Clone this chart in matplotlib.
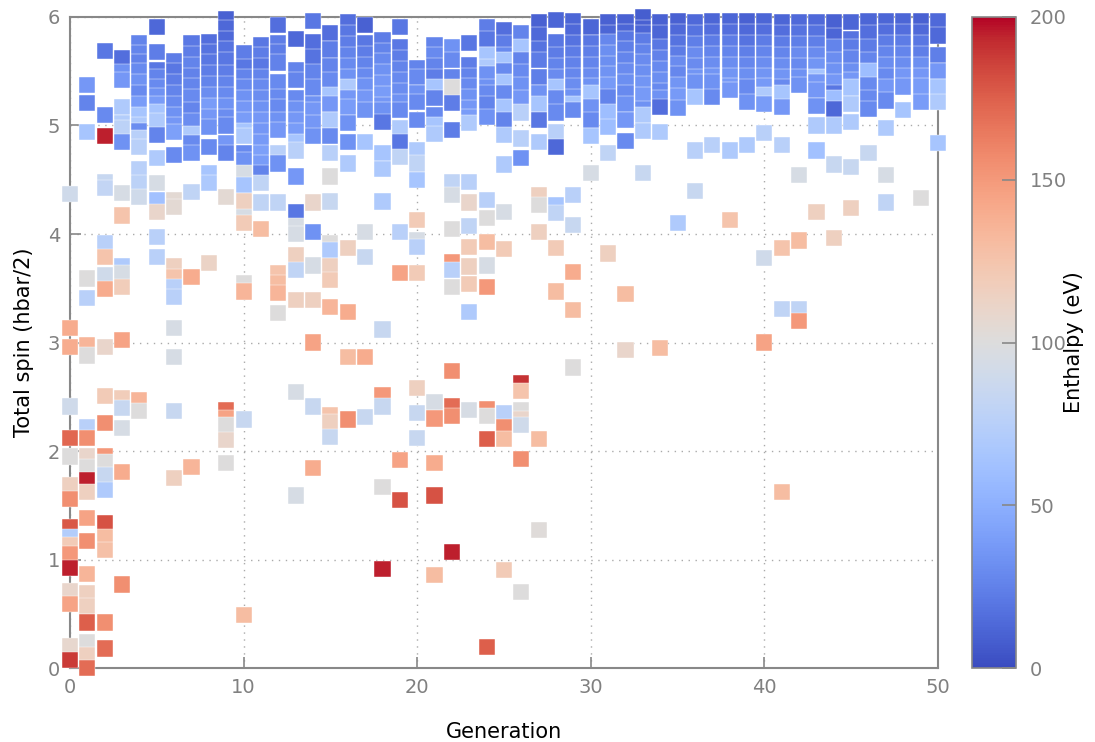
import numpy as np
import matplotlib
matplotlib.use("Agg")
import matplotlib.pyplot as plt

# spin (hbar/2) and enthalpy (eV) of every structure, one list per generation
spin = [
    [4.37, 3.13, 2.96, 2.41, 2.12, 1.95, 1.69, 1.56, 1.30, 1.21, 1.13, 1.05, 0.92, 0.71, 0.59, 0.20, 0.07],
    [5.37, 5.21, 4.94, 3.59, 3.41, 2.98, 2.88, 2.22, 2.12, 1.95, 1.85, 1.73, 1.62, 1.38, 1.17, 0.87, 0.69, 0.57, 0.42, 0.24, 0.12, 0.0],
    [5.69, 5.10, 4.90, 4.48, 4.42, 3.92, 3.79, 3.62, 3.49, 2.96, 2.51, 2.26, 1.95, 1.90, 1.78, 1.64, 1.34, 1.21, 1.09, 0.42, 0.18],
    [5.62, 5.49, 5.42, 5.17, 5.02, 4.98, 4.85, 4.38, 4.17, 3.70, 3.64, 3.51, 3.02, 2.49, 2.40, 2.21, 1.81, 0.77],
    [5.76, 5.67, 5.58, 5.50, 5.40, 5.30, 5.20, 5.10, 5.00, 4.95, 4.88, 4.80, 4.60, 4.47, 4.34, 2.47, 2.37],
    [5.91, 5.68, 5.51, 5.45, 5.35, 5.27, 5.20, 5.12, 5.04, 4.91, 4.70, 4.47, 4.31, 4.20, 3.97, 3.79],
    [5.59, 5.50, 5.40, 5.30, 5.20, 5.10, 5.00, 4.94, 4.73, 4.31, 4.25, 3.70, 3.60, 3.51, 3.42, 3.13, 2.87, 2.37, 1.75],
    [5.76, 5.66, 5.56, 5.46, 5.36, 5.26, 5.14, 5.04, 4.92, 4.84, 4.75, 4.39, 3.60, 1.85],
    [5.77, 5.68, 5.58, 5.48, 5.38, 5.28, 5.18, 5.08, 4.99, 4.80, 4.56, 4.47, 3.73],
    [5.98, 5.90, 5.80, 5.70, 5.60, 5.48, 5.38, 5.28, 5.18, 5.08, 5.00, 4.84, 4.75, 4.34, 2.38, 2.30, 2.24, 2.10, 1.89],
    [5.67, 5.54, 5.45, 5.35, 5.25, 5.15, 5.05, 4.95, 4.90, 4.75, 4.68, 4.56, 4.45, 4.30, 4.16, 4.10, 3.55, 3.47, 2.29, 0.49],
    [5.74, 5.65, 5.55, 5.45, 5.35, 5.25, 5.15, 5.05, 4.95, 4.85, 4.75, 4.65, 4.56, 4.47, 4.29, 4.05],
    [5.93, 5.76, 5.68, 5.58, 5.40, 5.26, 5.17, 5.05, 4.96, 4.75, 4.65, 4.29, 3.64, 3.55, 3.46, 3.27],
    [5.80, 5.51, 5.42, 5.25, 5.15, 5.05, 4.95, 4.85, 4.77, 4.53, 4.20, 4.07, 4.00, 3.81, 3.67, 3.39, 2.54, 1.59],
    [5.96, 5.77, 5.63, 5.49, 5.35, 5.20, 5.14, 5.02, 4.90, 4.29, 4.02, 3.71, 3.39, 3.00, 2.41, 1.84],
    [5.85, 5.70, 5.55, 5.42, 5.28, 5.20, 5.05, 4.90, 4.75, 4.53, 4.30, 3.92, 3.85, 3.70, 3.58, 3.33, 2.33, 2.27, 2.13],
    [5.95, 5.85, 5.75, 5.65, 5.55, 5.45, 5.35, 5.25, 5.17, 5.02, 4.85, 4.65, 3.87, 3.28, 2.87, 2.29],
    [5.93, 5.76, 5.66, 5.56, 5.46, 5.36, 5.25, 5.14, 4.85, 4.02, 3.79, 2.87, 2.31],
    [5.79, 5.69, 5.59, 5.49, 5.39, 5.29, 5.19, 5.14, 5.03, 4.75, 4.60, 4.30, 3.12, 2.52, 2.41, 1.67, 0.91],
    [5.91, 5.72, 5.62, 5.52, 5.42, 5.32, 5.22, 5.14, 4.98, 4.85, 4.71, 4.02, 3.64, 1.92, 1.55],
    [5.53, 5.45, 5.30, 5.22, 5.05, 4.77, 4.65, 4.50, 4.13, 3.94, 3.88, 3.64, 2.58, 2.35, 2.12],
    [5.74, 5.65, 5.55, 5.45, 5.35, 5.25, 5.10, 5.00, 4.92, 2.45, 2.30, 1.89, 1.59, 0.86],
    [5.72, 5.60, 5.45, 5.35, 5.21, 4.96, 4.48, 4.36, 4.05, 3.74, 3.67, 3.51, 2.74, 2.41, 2.32, 1.07],
    [5.76, 5.56, 5.46, 5.36, 5.26, 5.16, 5.08, 5.02, 4.48, 4.29, 4.07, 3.88, 3.70, 3.54, 3.28, 2.38],
    [5.91, 5.80, 5.65, 5.54, 5.47, 5.35, 5.30, 5.20, 5.08, 4.31, 4.15, 3.93, 3.71, 3.51, 2.39, 2.32, 2.11, 0.19],
    [5.88, 5.76, 5.65, 5.60, 5.50, 5.40, 5.30, 5.17, 5.05, 4.91, 4.64, 4.20, 3.86, 2.35, 2.22, 2.11, 0.90],
    [5.85, 5.72, 5.60, 5.49, 5.37, 5.25, 5.12, 4.88, 4.70, 2.63, 2.55, 2.38, 2.29, 2.24, 1.93, 0.70],
    [5.95, 5.83, 5.70, 5.60, 5.45, 5.30, 5.20, 5.05, 4.85, 4.36, 4.27, 4.02, 2.11, 1.27],
    [5.97, 5.77, 5.65, 5.55, 5.45, 5.35, 5.25, 5.12, 4.94, 4.80, 4.27, 4.19, 3.87, 3.47],
    [5.96, 5.86, 5.76, 5.66, 5.56, 5.46, 5.36, 5.26, 5.20, 5.14, 4.36, 4.08, 3.65, 3.30, 2.77],
    [5.91, 5.76, 5.66, 5.56, 5.46, 5.36, 5.30, 5.17, 5.05, 4.90, 4.56],
    [5.95, 5.85, 5.77, 5.67, 5.57, 5.47, 5.37, 5.26, 5.12, 4.99, 4.75, 3.82],
    [5.95, 5.86, 5.80, 5.70, 5.60, 5.50, 5.40, 5.30, 5.20, 5.05, 4.86, 3.45, 2.93],
    [6.00, 5.90, 5.85, 5.78, 5.68, 5.58, 5.48, 5.38, 5.28, 5.15, 5.10, 4.95, 4.56],
    [5.95, 5.85, 5.72, 5.62, 5.52, 5.42, 5.32, 5.25, 5.17, 4.94, 2.95],
    [5.96, 5.86, 5.76, 5.66, 5.57, 5.47, 5.37, 5.27, 5.16, 4.10],
    [5.95, 5.85, 5.75, 5.65, 5.55, 5.45, 5.40, 5.26, 4.77, 4.40],
    [5.96, 5.86, 5.76, 5.66, 5.56, 5.46, 5.40, 5.26, 4.82],
    [5.96, 5.86, 5.76, 5.66, 5.56, 5.46, 5.36, 5.33, 4.77, 4.13],
    [5.96, 5.86, 5.76, 5.66, 5.56, 5.46, 5.35, 5.22, 4.82],
    [5.96, 5.86, 5.76, 5.66, 5.56, 5.46, 5.36, 5.28, 5.20, 4.93, 3.78, 3.00],
    [5.95, 5.85, 5.75, 5.65, 5.55, 5.45, 5.35, 5.30, 5.17, 4.82, 3.87, 3.31, 1.62],
    [5.95, 5.85, 5.75, 5.65, 5.55, 5.45, 5.37, 4.54, 3.94, 3.31, 3.20],
    [5.95, 5.85, 5.75, 5.65, 5.55, 5.45, 5.40, 5.33, 5.18, 5.00, 4.77, 4.20],
    [5.95, 5.82, 5.72, 5.60, 5.50, 5.40, 5.30, 5.25, 5.15, 5.00, 4.64, 3.96],
    [5.95, 5.80, 5.72, 5.62, 5.50, 5.42, 5.35, 5.20, 5.03, 4.62, 4.24],
    [5.96, 5.85, 5.72, 5.60, 5.50, 5.37, 5.25, 5.15, 4.75],
    [5.96, 5.86, 5.76, 5.66, 5.56, 5.46, 5.35, 5.23, 4.98, 4.54, 4.29],
    [5.96, 5.86, 5.76, 5.66, 5.56, 5.46, 5.36, 5.14],
    [5.96, 5.86, 5.76, 5.66, 5.56, 5.46, 5.36, 5.22, 4.33],
    [5.96, 5.83, 5.65, 5.50, 5.35, 5.22, 4.84],
]

enthalpy = [
    [90, 140, 140, 90, 172, 100, 115, 155, 178, 72, 120, 150, 195, 110, 145, 108, 188],
    [36, 26, 65, 100, 75, 135, 100, 75, 155, 110, 100, 195, 115, 145, 155, 135, 115, 115, 175, 100, 115, 170],
    [20, 29, 195, 85, 82, 75, 125, 90, 140, 110, 120, 155, 150, 100, 85, 70, 180, 130, 128, 155, 170],
    [16, 33, 36, 70, 72, 78, 33, 95, 125, 70, 95, 118, 145, 118, 85, 95, 140, 155],
    [26, 27, 25, 29, 33, 29, 39, 65, 70, 31, 75, 75, 75, 78, 90, 135, 100],
    [13, 23, 20, 26, 29, 33, 39, 65, 70, 26, 70, 95, 62, 110, 75, 75],
    [23, 20, 23, 26, 29, 33, 36, 41, 29, 105, 105, 115, 125, 75, 75, 95, 95, 85, 115],
    [21, 23, 26, 25, 27, 29, 27, 31, 70, 29, 33, 80, 140, 135],
    [16, 18, 20, 23, 26, 31, 39, 36, 33, 29, 65, 68, 112],
    [10, 13, 14, 18, 20, 23, 26, 29, 33, 31, 29, 36, 26, 105, 170, 145, 100, 110, 100],
    [23, 20, 26, 29, 33, 36, 39, 65, 70, 29, 33, 95, 65, 115, 95, 120, 100, 135, 85, 130],
    [20, 23, 21, 26, 29, 31, 33, 36, 36, 38, 41, 39, 26, 80, 80, 130],
    [16, 23, 23, 25, 29, 29, 29, 33, 36, 75, 33, 80, 125, 130, 135, 100],
    [13, 26, 27, 29, 33, 36, 39, 65, 75, 36, 20, 95, 95, 115, 80, 115, 95, 95],
    [20, 16, 18, 26, 29, 33, 36, 36, 33, 110, 33, 95, 115, 145, 85, 140],
    [16, 23, 26, 29, 65, 36, 70, 29, 75, 100, 85, 100, 70, 115, 120, 135, 125, 115, 85],
    [16, 20, 23, 26, 29, 33, 70, 36, 39, 33, 33, 70, 115, 140, 130, 155],
    [10, 20, 23, 26, 29, 33, 36, 34, 65, 95, 85, 140, 85],
    [23, 26, 29, 33, 36, 39, 36, 33, 20, 65, 68, 70, 85, 150, 85, 100, 195],
    [20, 21, 23, 26, 29, 31, 33, 29, 70, 20, 80, 75, 145, 145, 180],
    [26, 29, 33, 29, 29, 70, 80, 65, 120, 95, 75, 120, 115, 85, 85],
    [26, 29, 26, 23, 65, 26, 29, 65, 70, 95, 150, 140, 180, 130],
    [33, 29, 26, 100, 23, 23, 80, 95, 100, 150, 75, 100, 155, 170, 155, 195],
    [20, 23, 26, 29, 33, 36, 39, 70, 75, 110, 80, 120, 115, 120, 70, 95],
    [23, 20, 65, 70, 33, 33, 29, 26, 33, 75, 100, 130, 95, 150, 155, 100, 175, 175],
    [16, 23, 29, 65, 29, 65, 29, 65, 26, 70, 70, 95, 120, 75, 155, 130, 120],
    [26, 65, 26, 29, 33, 36, 75, 75, 33, 190, 125, 100, 110, 90, 155, 100],
    [10, 14, 18, 22, 24, 33, 65, 20, 70, 115, 100, 115, 130, 102],
    [12, 20, 22, 26, 30, 65, 29, 29, 75, 13, 65, 80, 120, 130],
    [12, 14, 18, 22, 25, 28, 31, 33, 65, 29, 75, 85, 140, 130, 100],
    [12, 20, 24, 27, 30, 33, 65, 33, 29, 65, 95],
    [10, 12, 28, 32, 32, 34, 38, 26, 60, 60, 80, 115],
    [10, 12, 20, 24, 27, 30, 32, 29, 33, 36, 29, 130, 110],
    [8, 10, 12, 22, 26, 30, 32, 35, 38, 33, 70, 70, 85],
    [10, 12, 20, 25, 29, 32, 29, 33, 16, 70, 130],
    [10, 14, 18, 22, 30, 28, 35, 38, 33, 70],
    [14, 18, 24, 30, 30, 35, 33, 65, 75, 85],
    [12, 16, 22, 27, 31, 35, 33, 29, 75],
    [12, 16, 22, 27, 31, 35, 38, 36, 70, 125],
    [10, 14, 18, 24, 28, 32, 29, 33, 70],
    [12, 16, 22, 27, 31, 35, 38, 70, 39, 75, 90, 145],
    [12, 16, 22, 27, 31, 35, 29, 65, 36, 75, 125, 80, 130],
    [14, 18, 24, 30, 29, 33, 33, 95, 130, 80, 150],
    [14, 18, 24, 30, 35, 65, 36, 36, 33, 70, 62, 115],
    [10, 12, 26, 31, 33, 36, 20, 60, 13, 70, 85, 115],
    [12, 18, 22, 27, 32, 36, 65, 70, 70, 85, 115],
    [12, 16, 22, 27, 60, 29, 29, 29, 85],
    [12, 16, 22, 27, 31, 29, 36, 29, 70, 95, 80],
    [12, 16, 22, 27, 31, 36, 36, 65],
    [10, 14, 20, 24, 32, 36, 39, 39, 100],
    [14, 14, 24, 36, 65, 70, 65],
]

generation = np.concatenate([[g] * len(s) for g, s in enumerate(spin)])
spin_all = np.concatenate(spin)
enthalpy_all = np.concatenate(enthalpy)

grey = "#888888"

fig = plt.figure(figsize=(10.95, 7.42), dpi=100)
ax = fig.add_axes([0.0639, 0.0997, 0.7927, 0.8774])

sc = ax.scatter(generation, spin_all, c=enthalpy_all, cmap="coolwarm",
                vmin=0, vmax=200, marker="s", s=135,
                edgecolors="white", linewidths=0.3, clip_on=False, zorder=3)

ax.set_xlim(0, 50)
ax.set_ylim(0, 6)
ax.set_xticks([0, 10, 20, 30, 40, 50])
ax.set_yticks([0, 1, 2, 3, 4, 5, 6])
ax.set_axisbelow(True)
ax.grid(True, linestyle=(0, (1, 4)), color="#aaaaaa", linewidth=1)

for side in ax.spines.values():
    side.set_color(grey)
    side.set_linewidth(1.5)
ax.tick_params(direction="in", length=8, width=1.2, color=grey,
               labelcolor="#808080", labelsize=14, pad=7)

ax.set_xlabel("Generation", fontsize=15, labelpad=18)
ax.set_ylabel("Total spin (hbar/2)", fontsize=15, labelpad=10)

cax = fig.add_axes([0.8874, 0.0997, 0.0402, 0.8774])
cb = fig.colorbar(sc, cax=cax)
cb.set_ticks([0, 50, 100, 150, 200])
cb.outline.set_edgecolor(grey)
cb.outline.set_linewidth(1.2)
cax.tick_params(direction="in", length=10, width=1.2, color=grey,
                labelcolor="#808080", labelsize=14, pad=10)
cb.set_label("Enthalpy (eV)", fontsize=15, labelpad=-2)

fig.savefig("out.png", dpi=100)
